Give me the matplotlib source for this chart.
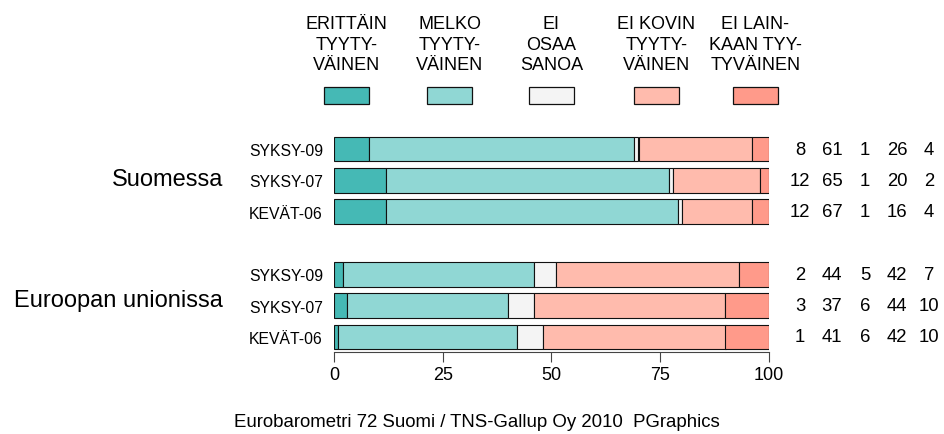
import matplotlib
matplotlib.use("Agg")
import matplotlib.pyplot as plt
import matplotlib.transforms as mtrans
import numpy as np

# vastausluokat ja värit
categories = ["ERITTÄIN\nTYYTY-\nVÄINEN", "MELKO\nTYYTY-\nVÄINEN", "EI\nOSAA\nSANOA",
              "EI KOVIN\nTYYTY-\nVÄINEN", "EI LAIN-\nKAAN TYY-\nTYVÄINEN"]
colors = ["#45B9B5", "#90D7D4", "#F4F4F4", "#FFBBAD", "#FF9A8A"]

groups = ["Suomessa", "Euroopan unionissa"]
rows = ["SYKSY-09", "SYKSY-07", "KEVÄT-06"]

suomi = [[8, 61, 1, 26, 4],
         [12, 65, 1, 20, 2],
         [12, 67, 1, 16, 4]]
eu = [[2, 44, 5, 42, 7],
      [3, 37, 6, 44, 10],
      [1, 41, 6, 42, 10]]

xticks = [0, 25, 50, 75, 100]

W, H = 945, 435
fig = plt.figure(figsize=(W / 100, H / 100), dpi=100)
ax = fig.add_axes([334 / W, 1 - 353 / H, 435 / W, 216 / H])

normal = ["Liberation Sans", "DejaVu Sans"]

data = np.array(suomi + eu)
ypos = np.array([0, 1, 2, 4, 5, 6])
left = np.zeros(len(ypos))
for j in range(len(categories)):
    ax.barh(ypos, data[:, j], left=left, height=0.78, color=colors[j],
            edgecolor="#111111", linewidth=0.8)
    left += data[:, j]

ax.set_xlim(0, 100)
ax.set_ylim(6.48, -0.415)
for s in ["left", "right", "top"]:
    ax.spines[s].set_visible(False)
ax.spines["bottom"].set_bounds(0, 100)
ax.spines["bottom"].set_color("#444444")
ax.set_xticks(xticks)
ax.set_xticklabels([str(v) for v in xticks], family=normal, fontsize=13)
ax.tick_params(axis="x", length=7, color="#444444", pad=3)
ax.set_yticks(ypos)
ax.set_yticklabels(rows + rows, family=normal, fontsize=11.3)
ax.tick_params(axis="y", length=0, pad=8)

# ryhmien nimet
fig.text(223 / W, 1 - 180 / H, groups[0], ha="right", va="center",
         family=normal, fontsize=17)
fig.text(223 / W, 1 - 301 / H, groups[1], ha="right", va="center",
         family=normal, fontsize=17)

# prosenttiluvut oikealla
tr = mtrans.blended_transform_factory(fig.transFigure, ax.transData)
col_x = [800, 832, 865, 897, 929]
for i, y in enumerate(ypos):
    for j, cx in enumerate(col_x):
        ax.text(cx / W, y, str(data[i, j]), transform=tr, ha="center", va="center",
                family=normal, fontsize=13.3)

# selite
box_x = [346.5, 450, 551.5, 656.5, 755.5]
for j, cx in enumerate(box_x):
    fig.patches.append(plt.Rectangle(((cx - 22.5) / W, 1 - 105 / H), 45 / W, 17 / H,
                                     transform=fig.transFigure, facecolor=colors[j],
                                     edgecolor="#111111", linewidth=0.9))
    fig.text(cx / W, 1 - 45 / H, categories[j], ha="center", va="center",
             family=normal, fontsize=13, linespacing=1.3)

fig.text(477 / W, 1 - 423 / H, "Eurobarometri 72 Suomi / TNS-Gallup Oy 2010  PGraphics",
         ha="center", va="center", family=normal, fontsize=13.4)

fig.savefig("out.png", dpi=100)
